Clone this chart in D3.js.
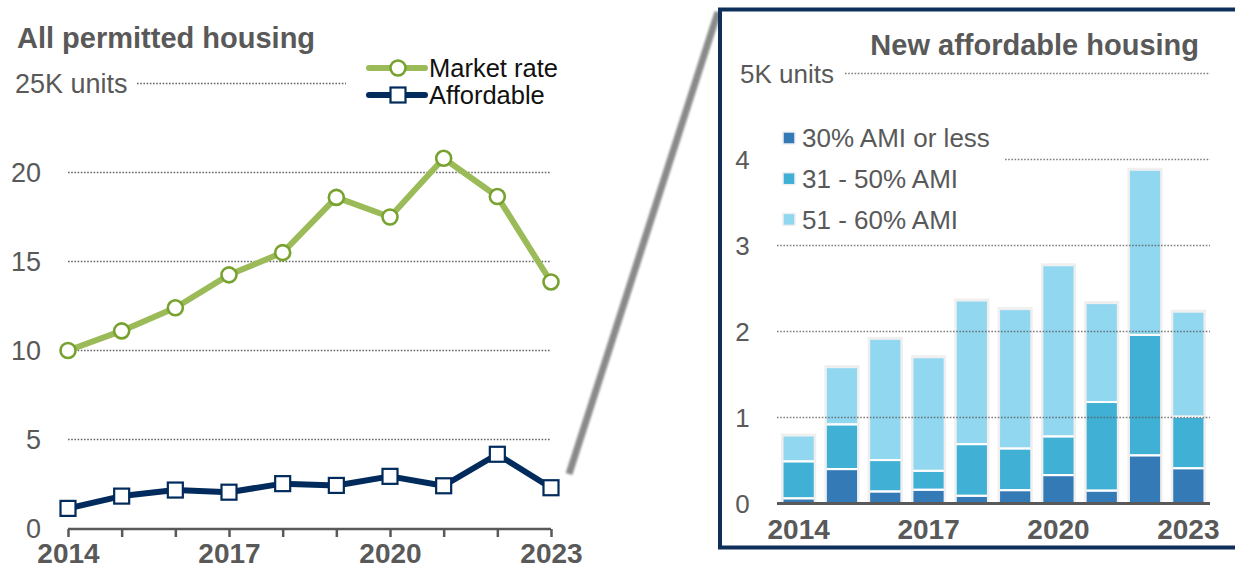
<!DOCTYPE html>
<html><head><meta charset="utf-8">
<script src="https://cdn.jsdelivr.net/npm/d3@7/dist/d3.min.js"></script>
<style>
body{margin:0;background:#fff;}
svg{display:block;font-family:"Liberation Sans",Arial,sans-serif;}
</style></head>
<body><svg id="c" width="1235" height="571"></svg>
<script>
// ---- data ----
const years = [2014,2015,2016,2017,2018,2019,2020,2021,2022,2023];
const marketRate = [10.0,11.1,12.4,14.25,15.5,18.6,17.5,20.8,18.65,13.85];
const affordable = [1.13,1.82,2.16,2.04,2.52,2.42,2.93,2.40,4.17,2.29];
const leftTicks = [0,5,10,15,20];
const leftTopTick = 25;
const yearLabels = [2014,2017,2020,2023];
const ami30 = [0.06,0.40,0.14,0.16,0.09,0.155,0.33,0.15,0.56,0.41];
const ami31_50 = [0.43,0.52,0.365,0.22,0.60,0.485,0.45,1.03,1.40,0.60];
const ami51_60 = [0.30,0.665,1.41,1.32,1.67,1.62,1.99,1.15,1.92,1.22];
const rightTicks = [0,1,2,3,4];
const rightTopTick = 5;
const seriesNames = ["30% AMI or less","31 - 50% AMI","51 - 60% AMI"];

const svg = d3.select("#c");
const gray = "#595959";
const green = "#9bbb59", greenDark = "#78a22f", navy = "#002b5c";
const barColors = ["#337ab7","#41b0d5","#91d7ef"];

// ---------- LEFT CHART ----------
const xL = d3.scalePoint().domain(years).range([68,551]);
const yL = d3.scaleLinear().domain([0,25]).range([528.5,83.5]);

svg.append("text").attr("x",17).attr("y",48).attr("font-size",29).attr("font-weight","bold")
  .attr("fill",gray).text("All permitted housing");

const gl = svg.append("g");
leftTicks.filter(d=>d>0).forEach(t=>{
  gl.append("line").attr("x1",68).attr("x2",551).attr("y1",yL(t)).attr("y2",yL(t))
    .attr("stroke","#666").attr("stroke-width",1.3).attr("stroke-dasharray","1.6,1.6");
});
gl.append("line").attr("x1",137).attr("x2",346).attr("y1",yL(leftTopTick)).attr("y2",yL(leftTopTick))
  .attr("stroke","#666").attr("stroke-width",1.3).attr("stroke-dasharray","1.6,1.6");
leftTicks.forEach(t=>{
  svg.append("text").attr("x",41).attr("y",yL(t)).attr("dy","0.36em").attr("text-anchor","end")
    .attr("font-size",27).attr("fill",gray).text(t);
});
svg.append("text").attr("x",15).attr("y",yL(leftTopTick)).attr("dy","0.36em")
  .attr("font-size",27).attr("fill",gray).text(leftTopTick+"K units");

// x axis
const axL = svg.append("g").attr("transform","translate(0,529)")
  .call(d3.axisBottom(xL).tickValues(years).tickSize(8).tickFormat(d=>yearLabels.includes(d)?d:""));
axL.select(".domain").attr("d","M68,0H551").attr("stroke",gray).attr("stroke-width",2.5);
axL.selectAll(".tick line").attr("stroke",gray).attr("stroke-width",2.5);
axL.selectAll(".tick text").attr("font-size",28).attr("font-weight","bold").attr("fill",gray)
  .attr("font-family","Liberation Sans, Arial, sans-serif").attr("y",14).attr("dy","0.71em");

// lines
const lineGen = d3.line().x((d,i)=>xL(years[i])).y(d=>yL(d));
svg.append("path").datum(marketRate).attr("d",lineGen).attr("fill","none")
  .attr("stroke",green).attr("stroke-width",6).attr("stroke-linejoin","round");
svg.selectAll(".mk").data(marketRate).join("circle").attr("cx",(d,i)=>xL(years[i])).attr("cy",d=>yL(d))
  .attr("r",7.5).attr("fill","#fff").attr("stroke",greenDark).attr("stroke-width",2.6);
svg.append("path").datum(affordable).attr("d",lineGen).attr("fill","none")
  .attr("stroke",navy).attr("stroke-width",6).attr("stroke-linejoin","round");
svg.selectAll(".af").data(affordable).join("rect").attr("x",(d,i)=>xL(years[i])-7.5).attr("y",d=>yL(d)-7.5)
  .attr("width",15).attr("height",15).attr("fill","#fff").attr("stroke",navy).attr("stroke-width",2.2);

// legend left
const lg = svg.append("g");
lg.append("line").attr("x1",369).attr("x2",425).attr("y1",68).attr("y2",68).attr("stroke",green).attr("stroke-width",6).attr("stroke-linecap","round");
lg.append("circle").attr("cx",398).attr("cy",68).attr("r",7.5).attr("fill","#fff").attr("stroke",greenDark).attr("stroke-width",2.6);
lg.append("text").attr("x",429).attr("y",77).attr("font-size",25.5).attr("fill","#111").text("Market rate");
lg.append("line").attr("x1",369).attr("x2",425).attr("y1",95).attr("y2",95).attr("stroke",navy).attr("stroke-width",6).attr("stroke-linecap","round");
lg.append("rect").attr("x",390.5).attr("y",87.5).attr("width",15).attr("height",15).attr("fill","#fff").attr("stroke",navy).attr("stroke-width",2.2);
lg.append("text").attr("x",429).attr("y",104).attr("font-size",25.5).attr("fill","#111").text("Affordable");

// connector
const defs = svg.append("defs");
defs.append("filter").attr("id","bl").append("feGaussianBlur").attr("stdDeviation",1.2);
svg.append("line").attr("x1",569).attr("y1",474).attr("x2",718).attr("y2",12)
  .attr("stroke","#8a8a8a").attr("stroke-width",7).attr("filter","url(#bl)");

// ---------- RIGHT CHART ----------
svg.append("rect").attr("x",720).attr("y",9.5).attr("width",530).attr("height",538)
  .attr("fill","#fff").attr("stroke","#0e2f5a").attr("stroke-width",4);

const xR = d3.scaleBand().domain(years).range([777,1210]).paddingInner(0.28).paddingOuter(0.14);
const yR = d3.scaleLinear().domain([0,5]).range([503.5,73.5]);

svg.append("text").attr("x",1199).attr("y",55).attr("text-anchor","end").attr("font-size",29)
  .attr("font-weight","bold").attr("fill",gray).text("New affordable housing");

// bars
const stackData = years.map((y,i)=>({year:y, a:ami30[i], b:ami31_50[i], c:ami51_60[i]}));
const stack = d3.stack().keys(["a","b","c"])(stackData);
const bw = xR.bandwidth();
// outer light border
svg.append("g").selectAll("rect").data(stackData).join("rect")
  .attr("x",d=>xR(d.year)-2).attr("width",bw+4)
  .attr("y",d=>yR(d.a+d.b+d.c)-2).attr("height",d=>yR(0)-yR(d.a+d.b+d.c)+2)
  .attr("fill","#efefef");
stack.forEach((s,k)=>{
  svg.append("g").selectAll("rect").data(s).join("rect")
    .attr("x",d=>xR(d.data.year)+0.5).attr("width",bw-1)
    .attr("y",d=>yR(d[1])+1).attr("height",d=>Math.max(0,yR(d[0])-yR(d[1])-2))
    .attr("fill",barColors[k]);
});
// white separators
stack.slice(0,2).forEach(s=>{
  svg.append("g").selectAll("rect").data(s).join("rect")
    .attr("x",d=>xR(d.data.year)+0.5).attr("width",bw-1)
    .attr("y",d=>yR(d[1])-1).attr("height",2).attr("fill","#fff");
});

// gridlines right (over bars)
const gr = svg.append("g");
rightTicks.filter(d=>d>0).forEach(t=>{
  gr.append("line").attr("x1",t===4?1005:777).attr("x2",1210).attr("y1",yR(t)).attr("y2",yR(t))
    .attr("stroke","#555").attr("stroke-opacity",0.75).attr("stroke-width",1.3).attr("stroke-dasharray","1.6,1.6");
});
gr.append("line").attr("x1",845).attr("x2",1210).attr("y1",yR(rightTopTick)).attr("y2",yR(rightTopTick))
  .attr("stroke","#555").attr("stroke-opacity",0.75).attr("stroke-width",1.3).attr("stroke-dasharray","1.6,1.6");
rightTicks.forEach(t=>{
  svg.append("text").attr("x",742.5).attr("y",yR(t)).attr("dy","0.36em").attr("text-anchor","middle")
    .attr("font-size",26).attr("fill",gray).text(t);
});
svg.append("text").attr("x",740).attr("y",yR(rightTopTick)).attr("dy","0.36em")
  .attr("font-size",26).attr("fill",gray).text(rightTopTick+"K units");

// x axis right
const axR = svg.append("g").attr("transform","translate(0,503.5)")
  .call(d3.axisBottom(xR).tickValues(yearLabels).tickSize(0));
axR.select(".domain").attr("d","M777,0H1210").attr("stroke",gray).attr("stroke-width",3);
axR.selectAll(".tick text").attr("font-size",28).attr("font-weight","bold").attr("fill",gray)
  .attr("font-family","Liberation Sans, Arial, sans-serif").attr("y",16).attr("dy","0.71em");

// legend right
const lr = svg.append("g");
seriesNames.forEach((n,i)=>{
  const cy = 138 + i*40.7;
  lr.append("rect").attr("x",783).attr("y",cy-6).attr("width",12).attr("height",12)
    .attr("fill",barColors[i]).attr("stroke","#efefef").attr("stroke-width",1.5);
  lr.append("text").attr("x",802).attr("y",cy).attr("dy","0.36em").attr("font-size",26)
    .attr("fill",gray).text(n);
});
</script></body></html>
